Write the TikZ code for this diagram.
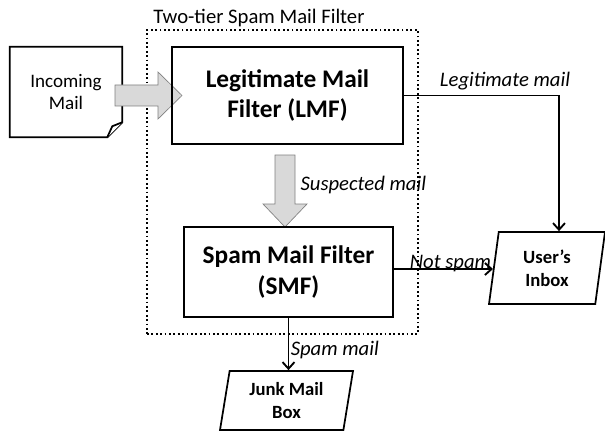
\documentclass[tikz,border=0pt]{standalone}
\usepackage{fontspec}
\setmainfont{Carlito}
\usetikzlibrary{arrows.meta,positioning,calc,shapes.geometric}

\tikzset{
	filterbox/.style={draw,line width=1.6pt,align=center,font=\bfseries\fontsize{19}{23}\selectfont,inner sep=0pt},
	storebox/.style={draw,line width=1.3pt,trapezium,trapezium left angle=75,trapezium right angle=105,trapezium stretches body,align=center,font=\bfseries\fontsize{14}{17}\selectfont,inner sep=0pt},
	flow/.style={line width=1.4pt,-{Straight Barb[length=5pt,width=9pt]}},
	flowlabel/.style={font=\itshape\fontsize{15.5}{18}\selectfont,inner sep=1pt},
	blockarrow/.style={draw=gray,fill=gray!30,line width=0.5pt}
}

\begin{document}
\begin{tikzpicture}[x=0.75pt,y=-0.75pt]
	\useasboundingbox (0,0) rectangle (605,431);
	% two-tier frame
	\node[draw,dotted,line width=1.3pt,minimum width=203.25pt,minimum height=228pt] (tier) at (282.5,182) {};
	\node[font=\fontsize{15.5}{18}\selectfont,anchor=south,inner sep=1pt] (title) at (259,28) {Two-tier Spam Mail Filter};

	% incoming mail (document)
	\node[align=center,font=\fontsize{14.3}{17}\selectfont,minimum width=84pt,minimum height=67.5pt] (incoming) at (66,92) {Incoming\\Mail};
	\draw[line width=1.3pt] (incoming.north west) -- (incoming.north east) -- ($(incoming.south east)+(0,-15)$)
		-- ($(incoming.south east)+(-15,0)$) -- (incoming.south west) -- cycle;
	\draw[line width=1.3pt,fill=white] ($(incoming.south east)+(-15,0)$) -- ($(incoming.south east)+(-10,-11)$)
		-- ($(incoming.south east)+(0,-15)$);

	% block arrows
	\draw[blockarrow] (115,85) -- (158,85) -- (158,72) -- (182,95.5) -- (158,119) -- (158,106) -- (115,106) -- cycle;
	\draw[blockarrow] (275,155) -- (295,155) -- (295,204) -- (307,204) -- (285,227) -- (263,204) -- (275,204) -- cycle;

	% filters
	\node[filterbox,minimum width=173.25pt,minimum height=72.75pt] (lmf) at (287.5,95.5) {Legitimate Mail\\Filter (LMF)};
	\node[filterbox,minimum width=156.75pt,minimum height=67.5pt] (smf) at (288.5,272) {Spam Mail Filter\\(SMF)};
	\node[flowlabel,anchor=west] at (299,185) {Suspected mail};

	% destinations
	\node[storebox,minimum width=87pt,minimum height=54pt] (inbox) at (547,268) {User's\\Inbox};
	\node[storebox,minimum width=99.75pt,minimum height=44.25pt] (junk) at (286.5,400.5) {Junk Mail\\Box};

	% connectors
	\draw[flow] (lmf.east) -| ($(inbox.north)+(12,0)$);
	\node[flowlabel,anchor=south] at (505,92) {Legitimate mail};
	\draw[flow] (smf.east |- 0,269) -- node[flowlabel,anchor=south,pos=0.57,yshift=-4pt] {Not spam} (inbox.west |- 0,269);
	\draw[flow] (smf.south) -- node[flowlabel,anchor=west,pos=0.62] {Spam mail} (smf.south |- junk.north);
\end{tikzpicture}
\end{document}
